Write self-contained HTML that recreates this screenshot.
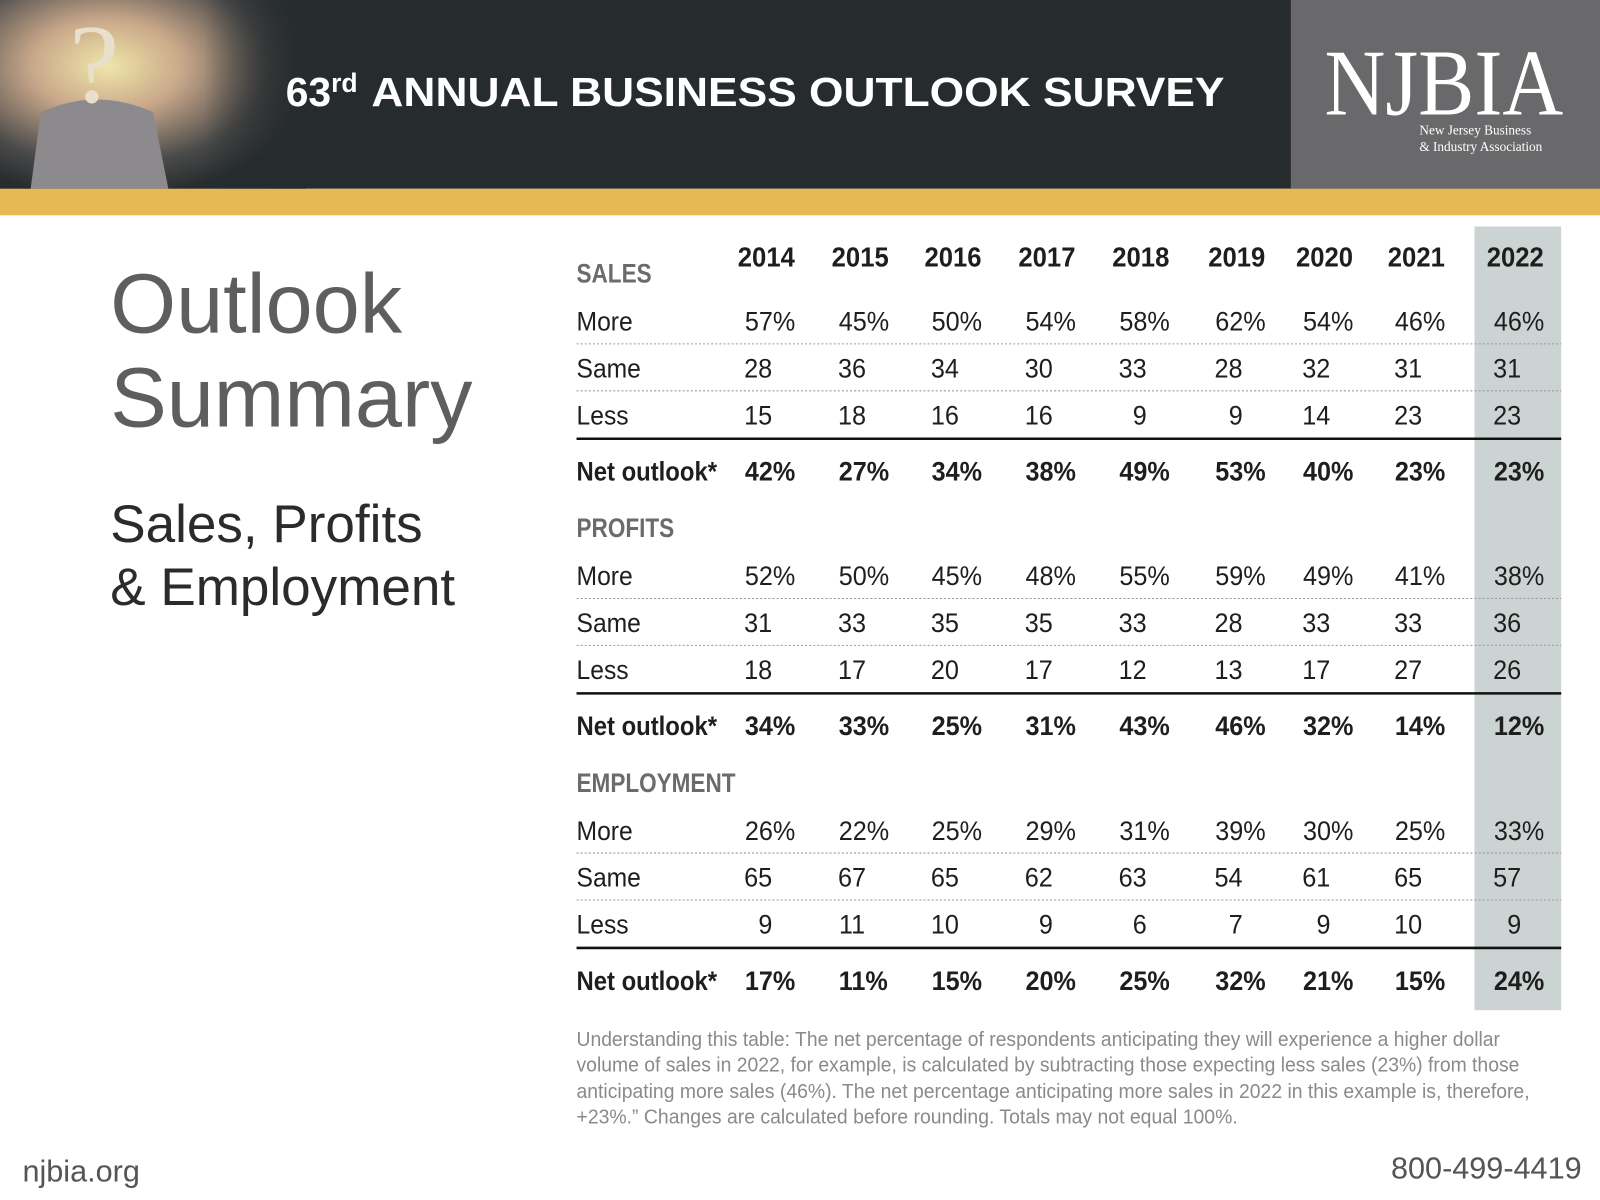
<!DOCTYPE html>
<html><head><meta charset="utf-8"><style>
html,body{margin:0;padding:0;background:#fff;}
svg{display:block;}
.cond{font-family:"Liberation Sans Narrow","Liberation Sans",sans-serif;}
</style></head><body>
<svg id="chart" width="1600" height="1200" viewBox="0 0 1568 1176" xmlns="http://www.w3.org/2000/svg">
<defs>
<radialGradient id="photo" cx="0.35" cy="0.35" r="0.7">
<stop offset="0" stop-color="#f0e6a8"/><stop offset="0.35" stop-color="#c9a88a"/><stop offset="0.75" stop-color="#4a4a4a"/><stop offset="1" stop-color="#262b2d"/>
</radialGradient>
<linearGradient id="fade" x1="0" x2="1"><stop offset="0" stop-color="#262b2d" stop-opacity="0"/><stop offset="1" stop-color="#262b2d"/></linearGradient>
</defs>
<rect x="0" y="0" width="1568" height="185" fill="#262b2d"/>
<rect x="0" y="0" width="300" height="185" fill="url(#photo)"/>
<rect x="200" y="0" width="100" height="185" fill="url(#fade)"/>
<path d="M30 185 L40 110 Q95 85 150 110 L165 185 Z" fill="#8d8a8e"/>
<text x="68" y="100" font-family="Liberation Serif,serif" font-size="110" fill="#e8e0cc">?</text>
<text x="280" y="104" font-family="Liberation Sans,sans-serif" font-weight="bold" font-size="40" fill="#fff"><tspan>63</tspan><tspan dy="-14" font-size="26">rd</tspan><tspan dy="14" x="364" textLength="836" lengthAdjust="spacingAndGlyphs">ANNUAL BUSINESS OUTLOOK SURVEY</tspan></text>
<rect x="1265" y="0" width="303" height="185" fill="#69696b"/>
<text x="1298" y="112" font-family="Liberation Serif,serif" font-size="92" fill="#fff" textLength="234" lengthAdjust="spacingAndGlyphs">NJBIA</text>
<text x="1391" y="132" font-family="Liberation Serif,serif" font-size="13" fill="#fff">New Jersey Business</text>
<text x="1391" y="148" font-family="Liberation Serif,serif" font-size="13" fill="#fff">&amp; Industry Association</text>
<rect x="0" y="185" width="1568" height="26" fill="#e6b955"/>

<text x="108" y="326" font-family="Liberation Sans,sans-serif" font-size="83" fill="#5e5e5e">Outlook</text>
<text x="108" y="418" font-family="Liberation Sans,sans-serif" font-size="83" fill="#5e5e5e">Summary</text>
<text x="108" y="531" font-family="Liberation Sans,sans-serif" font-size="52" fill="#2b2b2b">Sales, Profits</text>
<text x="108" y="593" font-family="Liberation Sans,sans-serif" font-size="52" fill="#2b2b2b">&amp; Employment</text>

<rect x="1445" y="222" width="85" height="768" fill="#ccd3d3"/>
<g id="table" class="cond"></g>

<g class="cond" font-size="20" fill="#8a8a8a">
<text x="565" y="1025" textLength="905" lengthAdjust="spacingAndGlyphs">Understanding this table: The net percentage of respondents anticipating they will experience a higher dollar</text>
<text x="565" y="1050" textLength="924" lengthAdjust="spacingAndGlyphs">volume of sales in 2022, for example, is calculated by subtracting those expecting less sales (23%) from those</text>
<text x="565" y="1076" textLength="934" lengthAdjust="spacingAndGlyphs">anticipating more sales (46%). The net percentage anticipating more sales in 2022 in this example is, therefore,</text>
<text x="565" y="1101" textLength="648" lengthAdjust="spacingAndGlyphs">+23%.” Changes are calculated before rounding. Totals may not equal 100%.</text>
</g>
<text x="22" y="1158" font-family="Liberation Sans,sans-serif" font-size="30" fill="#555">njbia.org</text>
<text x="1550" y="1155" text-anchor="end" font-family="Liberation Sans,sans-serif" font-size="30" fill="#555">800-499-4419</text>
</svg>
<script>
const years = ["2014","2015","2016","2017","2018","2019","2020","2021","2022"];
const salesMore = [57,45,50,54,58,62,54,46,46];
const salesSame = [28,36,34,30,33,28,32,31,31];
const salesLess = [15,18,16,16,9,9,14,23,23];
const salesNet = [42,27,34,38,49,53,40,23,23];
const profitsMore = [52,50,45,48,55,59,49,41,38];
const profitsSame = [31,33,35,35,33,28,33,33,36];
const profitsLess = [18,17,20,17,12,13,17,27,26];
const profitsNet = [34,33,25,31,43,46,32,14,12];
const empMore = [26,22,25,29,31,39,30,25,33];
const empSame = [65,67,65,62,63,54,61,65,57];
const empLess = [9,11,10,9,6,7,9,10,9];
const empNet = [17,11,15,20,25,32,21,15,24];
const sectionNames = ["SALES","PROFITS","EMPLOYMENT"];

const NS = "http://www.w3.org/2000/svg";
const g = document.getElementById('table');
const colLeft = [730,822,913,1005,1097,1191,1277,1367,1464];
function colX(i){ return colLeft[i]; }
function t(x,y,s,opt){
  const e = document.createElementNS(NS,'text');
  e.setAttribute('x',x); e.setAttribute('y',y);
  e.setAttribute('font-size',opt.size||26);
  e.setAttribute('fill',opt.fill||'#1e1e1e');
  if(opt.bold) e.setAttribute('font-weight','bold');
  if(opt.anchor) e.setAttribute('text-anchor',opt.anchor);
  e.textContent = s; g.appendChild(e);
  try { const w = e.getComputedTextLength(); if (w>0) { e.setAttribute('textLength', (w*(opt.sq||0.9)).toFixed(1)); e.setAttribute('lengthAdjust','spacingAndGlyphs'); } } catch(err){}
  return e;
}
function line(y,w,dash,name){
  const l = document.createElementNS(NS,'line');
  l.setAttribute('x1',565); l.setAttribute('x2',1530);
  l.setAttribute('y1',y); l.setAttribute('y2',y);
  l.setAttribute('stroke',dash?'#999':'#111');
  l.setAttribute('stroke-width',w);
  if(dash) l.setAttribute('stroke-dasharray','2,2');
  
  
  g.appendChild(l);
}
years.forEach((yr,i)=>{
  const e = t(colX(i)+21,261,yr,{bold:true,size:27,anchor:'middle',sq:0.93});
  
  
});
const sections = [[salesMore,salesSame,salesLess,salesNet],[profitsMore,profitsSame,profitsLess,profitsNet],[empMore,empSame,empLess,empNet]];
const labels = ["More","Same","Less","Net outlook*"];
sections.forEach((sec,si)=>{
  const base = si*249.5;
  const h = t(565,277+base,sectionNames[si],{bold:true,size:26,fill:'#6b6b6b',sq:0.85});
  
  
  const rowY = [324,370,416,471].map(v=>v+base);
  sec.forEach((vals,ri)=>{
    const bold = ri===3;
    const lb = t(565,rowY[ri],labels[ri],{bold:bold,size:26,sq:ri===3?0.9:0.93});
    
    
    vals.forEach((v,ci)=>{
      let e;
      if(ri===0||ri===3){ e = t(colX(ci),rowY[ri],v+'%',{bold:bold,size:26,sq:0.95}); }
      else { e = t(colX(ci)+(v<10?20:13),rowY[ri],String(v),{size:26,anchor:'middle',sq:0.95}); }
      
      
    });
  });
  line(337+base,1,true,'row-divider');
  line(383+base,1,true,'row-divider');
  line(430+base,2.5,false,'net-divider');
});
</script>
</body></html>
